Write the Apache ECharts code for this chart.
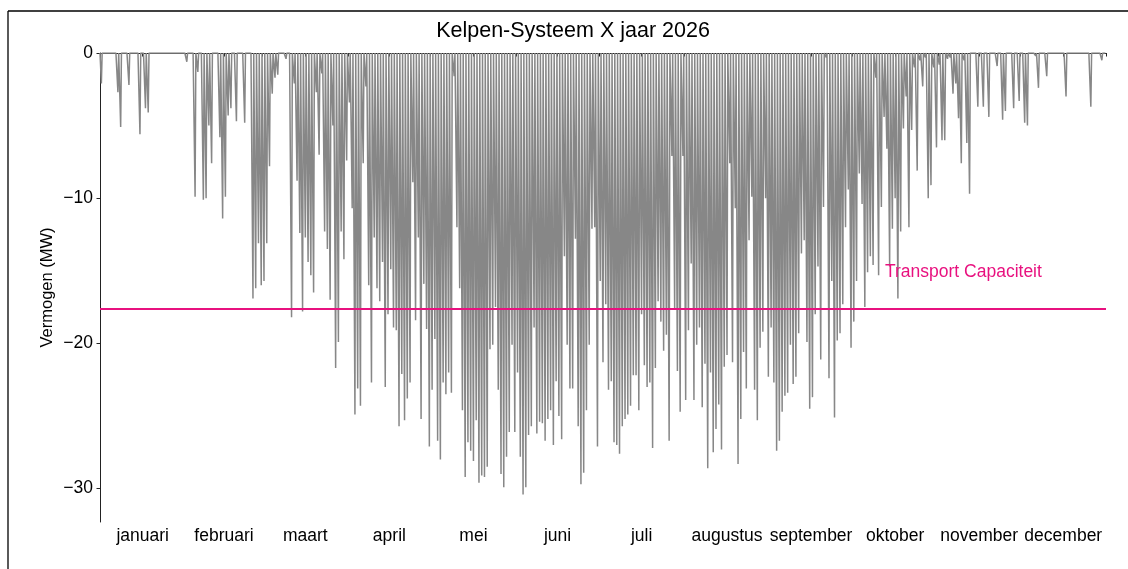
<!DOCTYPE html>
<html><head><meta charset="utf-8">
<script src="https://cdn.jsdelivr.net/npm/echarts@6/dist/echarts.min.js"></script>
<style>html,body{margin:0;padding:0;background:#fff}#c{width:1128px;height:569px}</style>
</head><body><div id="c"></div>
<script>
// ---- data (daily peak power, MW; negative = feed-in) ----
const titleText = 'Kelpen-Systeem X jaar 2026';
const yAxisName = 'Vermogen (MW)';
const months = ['januari','februari','maart','april','mei','juni','juli','augustus','september','oktober','november','december'];
const monthDays = [31,28,31,30,31,30,31,31,30,31,30,31];
const yTicks = [0,-10,-20,-30];
const capacity = -17.6;
const capacityLabel = 'Transport Capaciteit';

const jan = [-2.1,0,0,0,0,0,-2.7,-5.1,0,0,-2.2,0,0,0,-5.6,0,-3.8,-4.1,0,0,0,0,0,0,0,0,0,0,0,0,0];
const feb = [-0.6,0,0,-9.9,-1.3,0,-10.1,-10.0,-5.0,-7.6,0,0,-5.8,-11.4,-9.9,-4.3,-3.8,0,-4.7,0,0,-4.8,0,0,-16.9,-16.2,-13.1,-16.0];
const mar = [-15.7,-13.1,-7.8,-2.8,-1.7,-1.5,0,0,-0.4,0,-18.2,-2.1,-8.8,-12.4,-17.8,-12.7,-14.4,-15.3,-16.5,-2.7,-7.0,-1.4,-12.3,-13.5,-17.0,-5.0,-21.7,-19.9,-12.3,-14.2,-7.4];
const apr = [-3.4,-10.7,-24.9,-23.1,-24.3,-7.6,-2.3,-16.0,-22.7,-12.7,-16.2,-17.1,-14.4,-23.0,-18.0,-14.9,-18.9,-19.1,-25.7,-22.1,-25.3,-23.8,-22.7,-8.9,-18.4,-12.7,-25.2,-15.9,-19.0,-27.1];
const mei = [-23.2,-19.7,-26.7,-28.0,-22.7,-23.5,-22.0,-23.4,-1.6,-12.0,-16.2,-24.6,-29.2,-26.8,-27.4,-28.1,-25.3,-29.6,-29.1,-29.2,-28.5,-20.4,-20.1,-17.5,-23.2,-29.0,-29.9,-27.8,-26.1,-20.1,-26.1];
const jun = [-22.0,-27.8,-30.4,-29.9,-26.3,-25.7,-18.9,-26.2,-25.4,-25.5,-26.7,-25.2,-24.6,-27.0,-22.6,-25.0,-26.6,-14.0,-20.1,-23.1,-23.1,-12.8,-25.7,-29.7,-28.9,-24.6,-20.1,-12.1,-12.0,-27.1];
const jul = [-15.7,-21.3,-17.3,-23.2,-22.6,-26.8,-27.0,-27.6,-25.7,-25.2,-24.9,-24.3,-22.2,-22.2,-24.6,-18.0,-21.5,-23.0,-22.7,-27.2,-21.7,-17.1,-18.5,-20.5,-19.4,-26.7,-7.1,-17.7,-21.9,-24.7,-7.1];
const aug = [-23.9,-19.1,-14.5,-23.9,-20.1,-18.9,-24.4,-21.4,-28.6,-22.0,-27.5,-25.9,-24.2,-27.3,-21.6,-20.8,-7.6,-21.3,-10.7,-28.3,-25.2,-20.6,-23.1,-12.9,-9.9,-23.2,-25.3,-20.3,-19.2,-10.0,-22.3];
const sep = [-18.9,-22.7,-27.4,-26.7,-24.7,-23.6,-23.4,-20.1,-22.8,-22.3,-19.3,-13.8,-12.9,-19.9,-24.5,-23.7,-18.0,-14.7,-21.1,-10.6,-0.3,-22.4,-15.7,-25.1,-19.8,-19.3,-17.3,-12.0,-9.4,-20.3];
const okt = [-18.5,-15.7,-8.3,-10.4,-17.5,-15.1,-14.0,-14.6,-1.7,-15.3,-10.6,-4.4,-6.6,-14.7,-12.1,-10.0,-16.9,-12.3,-5.2,-3.0,-12.0,-5.3,-1.0,-8.1,-0.5,-2.3,-0.3,-10.0,-9.1,-1.0,-6.5];
const nov = [-0.8,-6.0,-6.0,-0.4,-0.3,-2.8,-2.1,-4.5,-7.6,-0.5,-6.2,-9.7,0,0,-3.7,0,-3.7,0,-4.4,0,0,-0.9,0,-4.6,-4.0,0,0,-3.8,0,-3.3];
const dec = [0,-4.8,-5.0,0,0,-0.2,-2.4,0,0,-1.6,0,0,0,0,0,0,-3.0,0,0,0,0,0,0,0,0,-3.7,0,0,0,-0.5,0];

const daily = [].concat(jan,feb,mar,apr,mei,jun,jul,aug,sep,okt,nov,dec);
const nDays = daily.length;

// profile per day: night at 0, daytime peak
const seriesData = [[0,0]];
daily.forEach((v,d)=>{ seriesData.push([d+0.22,0],[d+0.5,v],[d+0.78,0]); });
seriesData.push([nDays,0]);

const bounds = [0]; monthDays.forEach(n=>bounds.push(bounds[bounds.length-1]+n));
const mids = monthDays.map((n,i)=>bounds[i]+n/2);

const FONT = 'Liberation Sans, Arial, sans-serif';
const chart = echarts.init(document.getElementById('c'), null, {renderer:'canvas'});
const fmtMinus = v => v<0 ? '\u2212'+Math.abs(v) : String(v);

chart.setOption({
  animation:false,
  backgroundColor:'#fff',
  grid:{left:100, right:22, top:53, bottom:47, containLabel:false},
  xAxis:{
    type:'value', min:0, max:nDays,
    splitLine:{show:false},
    axisLine:{show:true, lineStyle:{color:'#222', width:1}},
    axisTick:{show:true, customValues:bounds.concat(mids), length:3.5, lineStyle:{color:'#222'}},
    axisLabel:{show:true, customValues:mids, margin:5, color:'#000', fontSize:17.5, fontFamily:FONT,
      formatter:(v)=>{ const i = mids.findIndex(m=>Math.abs(m-v)<0.01); return i>=0?months[i]:''; }}
  },
  yAxis:{
    type:'value', min:-32.3, max:0,
    name:yAxisName, nameLocation:'middle', nameGap:44, nameMoveOverlap:false,
    nameTextStyle:{color:'#000', fontSize:16.5, fontFamily:FONT},
    splitLine:{show:false},
    axisLine:{show:true, lineStyle:{color:'#222', width:1}},
    axisTick:{show:true, customValues:yTicks, length:3.5, lineStyle:{color:'#222'}},
    axisLabel:{customValues:yTicks, formatter:fmtMinus, color:'#000', fontSize:17.5, fontFamily:FONT, margin:7}
  },
  series:[{
    type:'line', data:seriesData, showSymbol:false, symbol:'none', sampling:null,
    lineStyle:{color:'#878787', width:1.5},
    z:2,
    markLine:{
      silent:true, symbol:'none', animation:false,
      label:{show:false},
      lineStyle:{color:'#e8117f', width:2, type:'solid'},
      data:[{yAxis:capacity}]
    }
  }]
});

const lblPos = chart.convertToPixel({gridIndex:0}, [284.8, -15.1]);
chart.setOption({
  graphic:[
    {type:'line', shape:{x1:8,y1:11,x2:1128,y2:11}, style:{stroke:'#000', lineWidth:1.3}, silent:true},
    {type:'line', shape:{x1:8,y1:11,x2:8,y2:569}, style:{stroke:'#000', lineWidth:1.3}, silent:true},
    {type:'text', x:573, y:31, style:{text:titleText, font:'21.5px '+FONT, fill:'#000', align:'center', verticalAlign:'middle'}},
    {type:'text', x:lblPos[0], y:lblPos[1], z:10, style:{text:capacityLabel, font:'17.5px '+FONT, fill:'#e8117f', align:'left', verticalAlign:'middle'}}
  ]
});
</script>
</body></html>
